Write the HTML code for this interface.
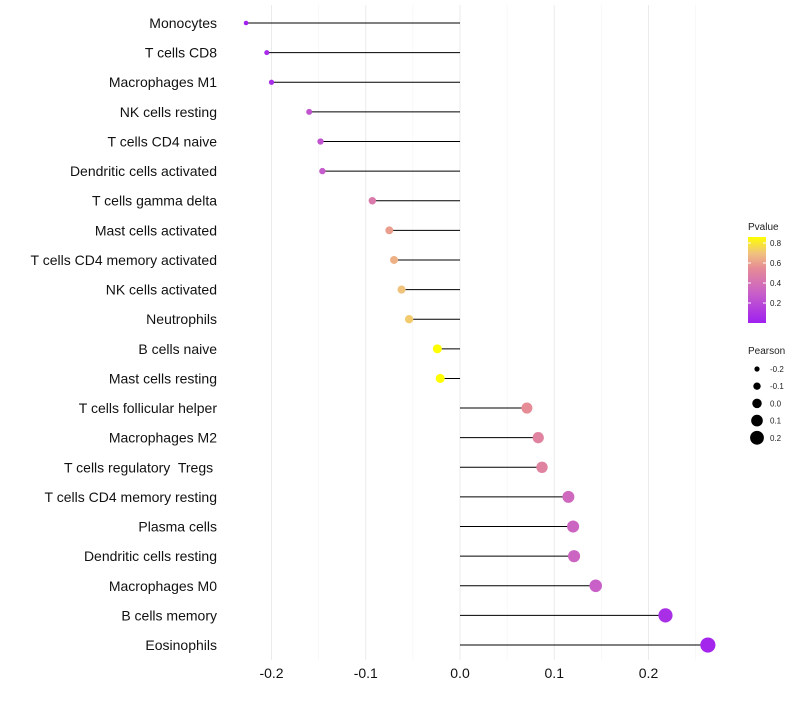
<!DOCTYPE html>
<html><head><meta charset="utf-8"><style>
body{margin:0;background:#fff;font-family:"Liberation Sans",sans-serif}
text{white-space:pre}
</style></head><body>
<svg id="c" width="800" height="700" xmlns="http://www.w3.org/2000/svg"></svg>
<script>
const cells=["Monocytes","T cells CD8","Macrophages M1","NK cells resting","T cells CD4 naive","Dendritic cells activated","T cells gamma delta","Mast cells activated","T cells CD4 memory activated","NK cells activated","Neutrophils","B cells naive","Mast cells resting","T cells follicular helper","Macrophages M2","T cells regulatory  Tregs ","T cells CD4 memory resting","Plasma cells","Dendritic cells resting","Macrophages M0","B cells memory","Eosinophils"];
const pearson=[-0.227,-0.205,-0.200,-0.160,-0.148,-0.146,-0.093,-0.075,-0.070,-0.062,-0.054,-0.024,-0.021,0.071,0.083,0.087,0.115,0.120,0.121,0.144,0.218,0.263];
const pvalue=[0.01,0.05,0.07,0.25,0.25,0.28,0.45,0.6,0.65,0.7,0.72,0.86,0.86,0.55,0.5,0.5,0.35,0.33,0.33,0.3,0.07,0.03];
const xTicks=[-0.2,-0.1,0.0,0.1,0.2];
const pTicks=[0.2,0.4,0.6,0.8];
const sizeTicks=[-0.2,-0.1,0.0,0.1,0.2];
const NS="http://www.w3.org/2000/svg",svg=document.getElementById('c');
const X=v=>460+v*942.5, Y=i=>23+i*29.62;
const R=v=>2.6+(v+0.2)/0.4*4.3;
const stops=[[0,[160,32,240]],[0.3,[200,96,200]],[0.55,[230,140,150]],[0.7,[240,195,125]],[0.86,[255,255,0]]];
function col(p){for(let i=1;i<stops.length;i++){if(p<=stops[i][0]){const a=stops[i-1],b=stops[i],t=(p-a[0])/(b[0]-a[0]);return 'rgb('+a[1].map((c,k)=>Math.round(c+(b[1][k]-c)*t)).join(',')+')';}}return 'rgb(255,255,0)';}
function el(t,a,p){const e=document.createElementNS(NS,t);for(const k in a)e.setAttribute(k,a[k]);(p||svg).appendChild(e);return e;}
for(let i=0;i<xTicks.length;i++){const v=xTicks[i];
const g=el('line',{x1:X(v),x2:X(v),y1:5,y2:660,stroke:'#ebebeb','stroke-width':1});

const m=el('line',{x1:X(v+0.05),x2:X(v+0.05),y1:5,y2:660,stroke:'#f4f4f4','stroke-width':0.6});

const t=el('text',{x:X(v),y:678,'text-anchor':'middle','font-size':14,fill:'#111'});t.textContent=v.toFixed(1);
}
for(let i=0;i<cells.length;i++){const y=Y(i);
const l=el('line',{x1:X(0),x2:X(pearson[i]),y1:y,y2:y,stroke:'#000','stroke-width':1});

const c=el('circle',{cx:X(pearson[i]),cy:y,r:R(pearson[i]),fill:col(pvalue[i])});

const t=el('text',{x:217,y:y+5,'text-anchor':'end','font-size':14,fill:'#111'});t.textContent=cells[i];
}
const defs=el('defs',{});const lg=el('linearGradient',{id:'g',x1:0,y1:1,x2:0,y2:0},defs);
for(const s of stops)el('stop',{offset:s[0]/0.86,'stop-color':col(s[0])},lg);
const lt=el('text',{x:748,y:230,'font-size':10,fill:'#222'});lt.textContent='Pvalue';

const cb=el('rect',{x:748,y:237,width:18,height:86,fill:'url(#g)'});

const PY=p=>323-p/0.86*86;
for(const p of pTicks){el('line',{x1:748,x2:751,y1:PY(p),y2:PY(p),stroke:'#fff'});el('line',{x1:763,x2:766,y1:PY(p),y2:PY(p),stroke:'#fff'});
const t=el('text',{x:770,y:PY(p)+3,'font-size':8,fill:'#222'});t.textContent=p.toFixed(1);
}
const st=el('text',{x:748,y:354,'font-size':10,fill:'#222'});st.textContent='Pearson';

sizeTicks.forEach((v,i)=>{const y=369+i*17.2;
const c=el('circle',{cx:757,cy:y,r:R(v),fill:'#000'});
const t=el('text',{x:770,y:y+3,'font-size':8,fill:'#222'});t.textContent=v.toFixed(1);
});
</script>
</body></html>
